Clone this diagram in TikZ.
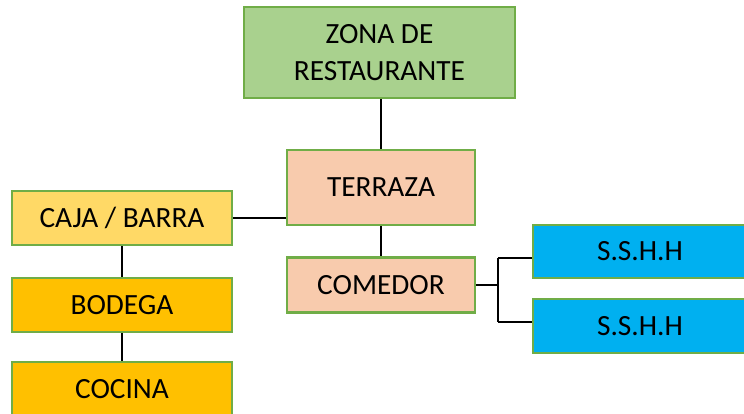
\documentclass[tikz,border=0pt]{standalone}
\usepackage{fontspec}
\setmainfont{Carlito}
\definecolor{gfill}{HTML}{A9D18E}
\definecolor{gborder}{HTML}{70AD47}
\definecolor{peach}{HTML}{F8CBAD}
\definecolor{lyellow}{HTML}{FFD966}
\definecolor{gold}{HTML}{FFC000}
\definecolor{sky}{HTML}{00B0F0}
\begin{document}
\begin{tikzpicture}[x=0.75pt,y=-0.75pt,
  box/.style={draw=gborder,line width=1.6pt,minimum width=#1*0.75pt,inner sep=0pt,
    font=\fontsize{22}{28}\selectfont,align=center},
  conn/.style={line width=1.3pt,black}]
\useasboundingbox (0,0) rectangle (744,414);
\node[box=271,minimum height=91*0.75pt,fill=gfill] (zona) at (379.5,52.5) {ZONA DE\\RESTAURANTE};
\node[box=188,minimum height=75*0.75pt,fill=peach] (terraza) at (381,187.5) {TERRAZA};
\node[box=220,minimum height=54*0.75pt,fill=lyellow] (caja) at (122,218) {CAJA / BARRA};
\node[box=220,minimum height=54*0.75pt,fill=gold] (bodega) at (122,305) {BODEGA};
\node[box=220,minimum height=54*0.75pt,fill=gold] (cocina) at (122,389) {COCINA};
\node[box=188,minimum height=55*0.75pt,fill=peach] (comedor) at (381,285) {COMEDOR};
\node[box=214,minimum height=53*0.75pt,fill=sky] (s1) at (640,251.5) {S.S.H.H};
\node[box=214,minimum height=54*0.75pt,fill=sky] (s2) at (640,326) {S.S.H.H};
\coordinate (bt) at (498,258);
\coordinate (bb) at (498,322);
\coordinate (br) at (comedor.east -| bt);
\draw[conn] (terraza.north) -- (terraza.north |- zona.south);
\draw[conn] (caja.east) -- (caja.east -| terraza.west);
\draw[conn] (caja.south) -- (bodega.north);
\draw[conn] (bodega.south) -- (cocina.north);
\draw[conn] (terraza.south) -- (comedor.north);
\draw[conn] (comedor.east) -- (br);
\draw[conn] (bt) -- (bb);
\draw[conn] (bt) -- (bt -| s1.west);
\draw[conn] (bb) -- (bb -| s2.west);
\end{tikzpicture}
\end{document}
